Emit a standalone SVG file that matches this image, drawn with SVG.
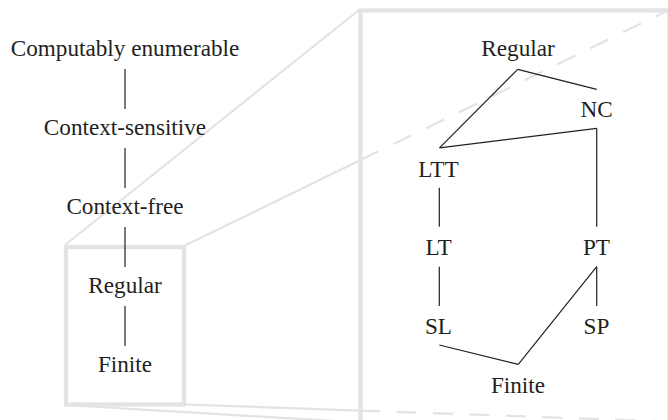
<svg xmlns="http://www.w3.org/2000/svg" width="668" height="420" viewBox="0 0 668 420">
<style>
text{font-family:"Liberation Serif","Times New Roman",serif;font-size:23.2px;fill:#231f20;text-anchor:middle}
.edge{stroke:#231f20;stroke-width:1.2;fill:none}
.box{stroke:#e3e3e5;stroke-width:4.3;fill:none}
.proj{stroke:#e3e3e5;stroke-width:2.2;fill:none}
.dash{stroke:#e3e3e5;stroke-width:2.2;fill:none;stroke-dasharray:20 16.5}
</style>
<rect width="668" height="420" fill="#ffffff"/>
<g id="zoom-frame">
<rect class="box" x="66" y="247" width="118" height="157.5"/>
<rect class="box" x="360.5" y="10.5" width="309" height="416"/>
<line class="proj" x1="65" y1="245" x2="359" y2="10"/>
<line class="proj" x1="186" y1="245" x2="360.5" y2="160.1"/>
<line class="dash" x1="360.5" y1="160.1" x2="669" y2="10"/>
<line class="proj" x1="65" y1="405" x2="360" y2="422.5"/>
<line class="proj" x1="185" y1="404.5" x2="360" y2="410.6"/>
<line class="dash" x1="360" y1="410.6" x2="669" y2="421.5"/>
</g>
<g id="connectors">
<line class="edge" x1="125" y1="69" x2="125" y2="109"/>
<line class="edge" x1="125" y1="148" x2="125" y2="188"/>
<line class="edge" x1="125" y1="227" x2="125" y2="267"/>
<line class="edge" x1="125" y1="306" x2="125" y2="346"/>
<line class="edge" x1="517.7" y1="69.3" x2="439.5" y2="147.8"/>
<line class="edge" x1="517.7" y1="69.3" x2="596.7" y2="89.3"/>
<line class="edge" x1="596.7" y1="128.3" x2="439.5" y2="147.8"/>
<line class="edge" x1="596.7" y1="128.3" x2="596.7" y2="226.7"/>
<line class="edge" x1="439.3" y1="187.7" x2="439.3" y2="226.7"/>
<line class="edge" x1="439.3" y1="266.7" x2="439.3" y2="306"/>
<line class="edge" x1="596.7" y1="266.7" x2="596.7" y2="306"/>
<line class="edge" x1="439.3" y1="345" x2="518.3" y2="364.3"/>
<line class="edge" x1="596.7" y1="266.7" x2="518.3" y2="364.3"/>
</g>
<g id="ce"><text x="125" y="56">Computably enumerable</text></g>
<g id="cs"><text x="125" y="135">Context-sensitive</text></g>
<g id="cf"><text x="125" y="214">Context-free</text></g>
<g id="reg-left"><text x="125" y="293">Regular</text></g>
<g id="fin-left"><text x="125" y="372">Finite</text></g>
<g id="reg"><text x="518" y="56">Regular</text></g>
<g id="nc"><text x="596.5" y="117">NC</text></g>
<g id="ltt"><text x="438.5" y="177">LTT</text></g>
<g id="lt"><text x="438.5" y="255">LT</text></g>
<g id="pt"><text x="596.5" y="255">PT</text></g>
<g id="sl"><text x="438.5" y="334">SL</text></g>
<g id="sp"><text x="596.5" y="334">SP</text></g>
<g id="fin"><text x="518" y="393">Finite</text></g>
</svg>
